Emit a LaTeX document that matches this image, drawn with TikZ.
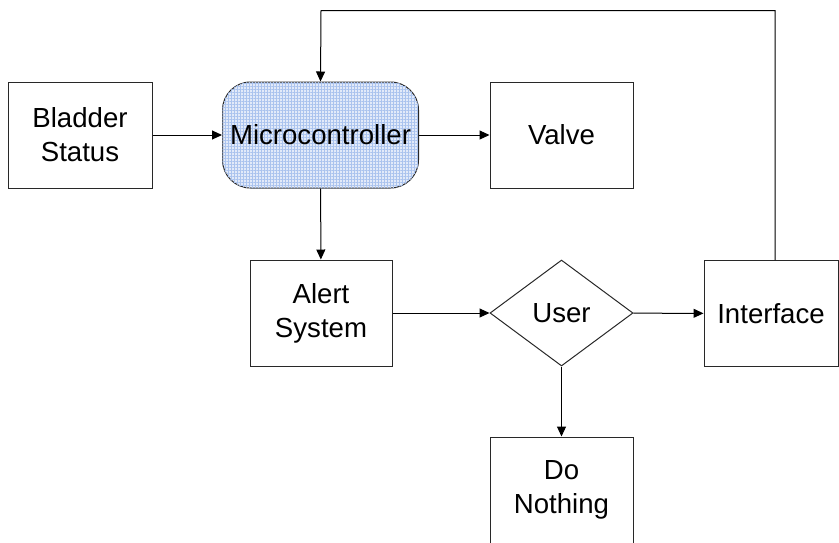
\documentclass[tikz,border=0pt]{standalone}
\usepackage{fontspec}
\setmainfont{Liberation Sans}
\usetikzlibrary{shapes.geometric,arrows.meta,patterns.meta}
\definecolor{mcfill}{RGB}{226,234,249}
\definecolor{mcgrid}{RGB}{170,195,238}
\definecolor{edge}{RGB}{40,40,40}
\tikzset{
  box/.style={draw=edge, line width=0.5pt, minimum height=53pt, align=center, inner sep=0pt,
    font=\fontsize{13.8}{17}\selectfont},
  arr/.style={draw=black, line width=0.5pt, -{Triangle[length=5pt,width=4.5pt]}},
}
\begin{document}
\begin{tikzpicture}[x=0.5pt,y=-0.5pt]
\useasboundingbox (0,0) rectangle (839,542);
\node[box, minimum width=72pt] (bladder) at (80,135) {Bladder\\Status};
\node[box, minimum width=98pt, rounded corners=14pt, fill=mcfill,
  postaction={pattern={Lines[angle=0,distance=1.5pt,line width=0.35pt]}, pattern color=mcgrid},
  postaction={pattern={Lines[angle=90,distance=1.5pt,line width=0.35pt]}, pattern color=mcgrid}]
  (micro) at (320.5,135) {Microcontroller};
\node[box, minimum width=71.5pt] (valve) at (561.5,135) {Valve};
\node[box, minimum width=71pt] (alert) at (321,313) {Alert\\System};
\node[box, shape=diamond, minimum width=71.5pt, minimum height=53pt] (user) at (561.5,313) {User};
\node[box, minimum width=67pt] (iface) at (771,313.5) {Interface};
\node[box, minimum width=71.5pt, text depth=3pt] (nothing) at (561.5,490) {Do\\Nothing};
\coordinate (loop) at (321,10.5);

\draw[arr] (bladder) -- (micro);
\draw[arr] (micro) -- (valve);
\draw[arr] (micro) -- (alert);
\draw[arr] (alert) -- (user);
\draw[arr] (user) -- (iface);
\draw[arr] (user) -- (nothing);
\draw[arr] ([xshift=2pt]iface.north) |- (loop) -- (micro.north);
\end{tikzpicture}
\end{document}
